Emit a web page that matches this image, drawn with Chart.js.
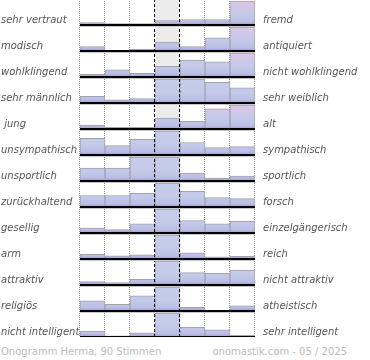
<!DOCTYPE html>
<html><head><meta charset="utf-8">
<script src="https://cdn.jsdelivr.net/npm/chart.js@4.4.1/dist/chart.umd.min.js"></script>
<style>
html,body{margin:0;padding:0;background:#fff;width:370px;height:360px;overflow:hidden;}
#wrap{position:absolute;left:0;top:-1px;width:370px;height:338px;}
.foot{position:absolute;top:346px;font:10px "DejaVu Sans",sans-serif;color:#bbb;white-space:nowrap;line-height:12px;}
</style></head><body>
<div id="wrap"><canvas id="c" width="370" height="338"></canvas></div>
<div class="foot" style="left:1px">Onogramm Herma, 90 Stimmen</div>
<div class="foot" style="right:23px">onomastik.com - 05 / 2025</div>
<script>
// scale points (7 columns)
const columns = ['1','2','3','4','5','6','7'];
// left and right poles
const leftLabels = ['sehr vertraut','modisch','wohlklingend','sehr männlich',' jung','unsympathisch','unsportlich','zurückhaltend','gesellig','arm','attraktiv','religiös','nicht intelligent'];
const rightLabels = ['fremd','antiquiert','nicht wohlklingend','sehr weiblich','alt','sympathisch','sportlich','forsch','einzelgängerisch','reich','nicht attraktiv','atheistisch','sehr intelligent'];
// votes per scale point (90 votes)
const row1  = [5, 3, 3, 9, 11, 11, 48];
const row2  = [7, 0, 3, 14, 7, 21, 38];
const row3  = [3, 8, 4, 12, 19, 17, 27];
const row4  = [6, 3, 4, 22, 22, 19, 14];
const row5  = [5, 2, 2, 14, 10, 26, 31];
const row6  = [16, 9, 15, 23, 12, 7, 8];
const row7  = [13, 13, 24, 24, 8, 3, 5];
const row8  = [11, 11, 13, 23, 15, 9, 8];
const row9  = [6, 4, 11, 29, 15, 11, 14];
const row10 = [9, 6, 8, 46, 12, 4, 5];
const row11 = [4, 3, 7, 29, 15, 14, 18];
const row12 = [14, 9, 21, 33, 5, 1, 7];
const row13 = [10, 2, 7, 40, 16, 12, 3];
const rows = [row1,row2,row3,row4,row5,row6,row7,row8,row9,row10,row11,row12,row13];

const N = rows.length;
const FILL = 24/26;

function hex(c){return [parseInt(c.slice(1,3),16),parseInt(c.slice(3,5),16),parseInt(c.slice(5,7),16)];}
function mix(a,b,t){const A=hex(a),B=hex(b);return 'rgb('+A.map((v,i)=>Math.round(v+(B[i]-v)*t)).join(',')+')';}

function tintOf(vals){
  const tot = vals.reduce((s,v)=>s+v,0);
  const mean = vals.reduce((s,v,i)=>s+v*i,0)/tot;
  return Math.max(0, Math.min(1, (mean-3.95)/0.2));
}

function rowFill(ctx, r, tint){
  const chart = ctx.chart;
  const v = chart.scales && chart.scales.v;
  if (!v || !chart.chartArea) return '#c3cbe9';
  const base = N-1-r;
  const y0 = v.getPixelForValue(base), y1 = v.getPixelForValue(base+FILL);
  const g = chart.ctx.createLinearGradient(0,y0,0,y1);
  const px = 1/Math.abs(y0-y1);
  g.addColorStop(0,'#a39bd0');
  g.addColorStop(Math.min(1,3.5*px),'#bcbfe5');
  g.addColorStop(0.45,'#c3cbe9');
  g.addColorStop(1, mix('#c5cdea','#dfc4e6',tint));
  return g;
}

const datasets = rows.map((vals,r)=>{
  const max = Math.max(...vals);
  const base = N-1-r;
  const tint = tintOf(vals);
  return {
    data: vals.map(v=>[base, base + v/max*FILL]),
    xAxisID:'x', yAxisID:'v', grouped:false,
    backgroundColor: ctx=>rowFill(ctx,r,tint),
    borderColor:'#a2a2ac',
    borderWidth:{top:1,left:1,right:1,bottom:0},
    barPercentage:1, categoryPercentage:1
  };
});

const decor = {
  id:'decor',
  beforeDatasetsDraw(chart){
    const {ctx, chartArea:{top,bottom}, scales:{x}} = chart;
    const half = (x.getPixelForValue(1)-x.getPixelForValue(0))/2;
    const edge = i => x.getPixelForValue(i)-half;
    ctx.save();
    ctx.fillStyle='#ececec';
    ctx.fillRect(edge(3), top, edge(4)-edge(3), bottom-top);
    ctx.strokeStyle='#8c8c8c'; ctx.lineWidth=1; ctx.setLineDash([1,1]);
    for (let i=0;i<=columns.length;i++){
      if (i===3||i===4) continue;
      const xx = Math.round(edge(i))-0.5;
      ctx.beginPath(); ctx.moveTo(xx,top); ctx.lineTo(xx,bottom); ctx.stroke();
    }
    ctx.restore();
  },
  afterDatasetsDraw(chart){
    const {ctx, chartArea:{top,bottom,left,right}, scales:{x,v}} = chart;
    const half = (x.getPixelForValue(1)-x.getPixelForValue(0))/2;
    const edge = i => x.getPixelForValue(i)-half;
    ctx.save();
    ctx.strokeStyle='#000'; ctx.lineWidth=1; ctx.setLineDash([3,2]);
    [3,4].forEach(i=>{
      const xx = Math.round(edge(i))-0.5;
      ctx.beginPath(); ctx.moveTo(xx,top); ctx.lineTo(xx,bottom); ctx.stroke();
    });
    ctx.setLineDash([]);
    for (let r=0;r<N;r++){
      const y = Math.round(v.getPixelForValue(N-1-r));
      ctx.strokeStyle='#c8c8c8'; ctx.lineWidth=1;
      ctx.beginPath(); ctx.moveTo(left,y+1.5); ctx.lineTo(right,y+1.5); ctx.stroke();
      ctx.strokeStyle='#000'; ctx.lineWidth=2;
      ctx.beginPath(); ctx.moveTo(left,y); ctx.lineTo(right,y); ctx.stroke();
    }
    ctx.restore();
  }
};

const labelFont = {family:'DejaVu Sans', size:10, style:'italic'};
const noPad = (w)=> s => { s.width = w; s.paddingTop = 0; s.paddingBottom = 0; };

new Chart(document.getElementById('c'), {
  type:'bar',
  data:{labels:columns, datasets},
  options:{
    responsive:false, animation:false, devicePixelRatio:1,
    layout:{padding:{left:1,right:0,top:0,bottom:0}},
    plugins:{legend:{display:false}, tooltip:{enabled:false}},
    scales:{
      x:{type:'category', labels:columns, offset:true, display:false},
      v:{type:'linear', min:0, max:N, display:false},
      yL:{type:'category', labels:leftLabels, position:'left', offset:true,
          grid:{display:false, drawTicks:false}, border:{display:false},
          ticks:{crossAlign:'far', labelOffset:8, padding:0, autoSkip:false, color:'#555', font:labelFont},
          afterFit:noPad(79)},
      yR:{type:'category', labels:rightLabels, position:'right', offset:true,
          grid:{display:false, drawTicks:false}, border:{display:false},
          ticks:{crossAlign:'near', labelOffset:8, padding:8, autoSkip:false, color:'#555', font:labelFont},
          afterFit:noPad(115)}
    }
  },
  plugins:[decor]
});
</script>
</body></html>
